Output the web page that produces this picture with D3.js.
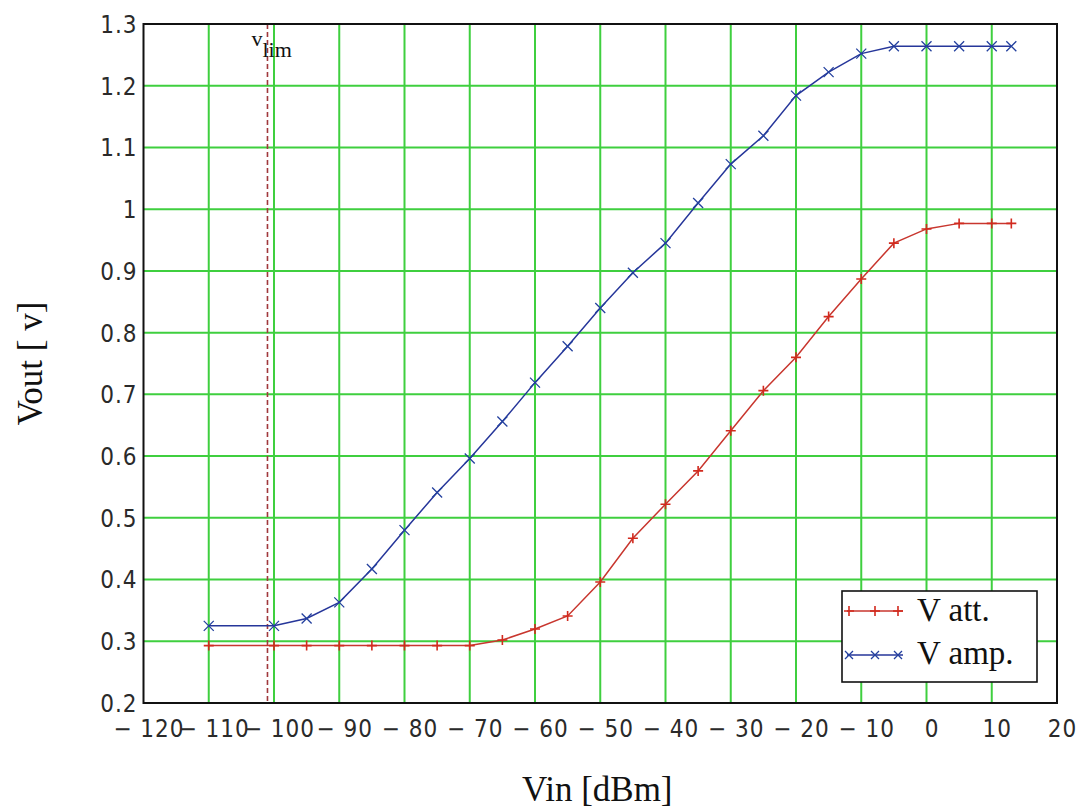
<!DOCTYPE html>
<html>
<head>
<meta charset="utf-8">
<script src="https://cdn.jsdelivr.net/npm/d3@7"></script>
<style>
  body { margin: 0; background: #fff; }
  svg { display: block; }
  .tick-lbl { font-family: "Liberation Sans Narrow", "DejaVu Sans Condensed", sans-serif; font-size: 24px; fill: #2a2a2a; letter-spacing: 1px; }
  .ttl { font-family: "Liberation Serif", "Times New Roman", serif; fill: #111; }
</style>
</head>
<body>
<div id="chart"></div>
<script>
// data
var vin  = [-110, -100, -95, -90, -85, -80, -75, -70, -65, -60, -55, -50, -45, -40, -35, -30, -25, -20, -15, -10, -5, 0, 5, 10, 13];
var vAtt = [0.293, 0.293, 0.293, 0.293, 0.293, 0.293, 0.293, 0.293, 0.302, 0.320, 0.341, 0.396, 0.467, 0.522, 0.576, 0.641, 0.706, 0.760, 0.826, 0.887, 0.945, 0.968, 0.977, 0.977, 0.977];
var vAmp = [0.325, 0.325, 0.337, 0.363, 0.417, 0.480, 0.541, 0.596, 0.656, 0.719, 0.778, 0.840, 0.897, 0.945, 1.010, 1.073, 1.119, 1.184, 1.222, 1.252, 1.264, 1.264, 1.264, 1.264, 1.264];
var vLim = -101;
var xTicks = [-120, -110, -100, -90, -80, -70, -60, -50, -40, -30, -20, -10, 0, 10, 20];
var yTicks = [0.2, 0.3, 0.4, 0.5, 0.6, 0.7, 0.8, 0.9, 1.0, 1.1, 1.2, 1.3];
var seriesNames = ["V att.", "V amp."];

var W = 1082, H = 810;
var m = {left: 143.5, right: 25, top: 24, bottom: 107};

var svg = d3.select("#chart").append("svg").attr("width", W).attr("height", H);

var x = d3.scaleLinear().domain([-120, 20]).range([m.left, W - m.right]);
var y = d3.scaleLinear().domain([0.2, 1.3]).range([H - m.bottom, m.top]);

// grid
var grid = svg.append("g");
grid.selectAll(".vg").data(xTicks.slice(1, -1)).enter().append("line")
  .attr("x1", function(d){ return x(d); }).attr("x2", function(d){ return x(d); })
  .attr("y1", y(1.3)).attr("y2", y(0.2))
  .style("stroke", "#3fcf3f").style("stroke-width", 2);
grid.selectAll(".hg").data(yTicks.slice(1, -1)).enter().append("line")
  .attr("x1", x(-120)).attr("x2", x(20))
  .attr("y1", function(d){ return y(d); }).attr("y2", function(d){ return y(d); })
  .style("stroke", "#3fcf3f").style("stroke-width", 2);

// axes (labels only, Mathcad style)
var xAxis = d3.axisBottom(x).tickValues(xTicks).tickSize(0)
  .tickFormat(function(d){ return d < 0 ? "\u2212 " + Math.abs(d) : String(d); });
var gx = svg.append("g").attr("transform", "translate(5," + (H - m.bottom) + ")").call(xAxis);
gx.select(".domain").remove();
gx.selectAll("text").attr("class", "tick-lbl").attr("y", 34).attr("dy", 0).style("font", null);

var yAxis = d3.axisLeft(y).tickValues(yTicks).tickSize(0)
  .tickFormat(function(d){ return String(+d.toFixed(1)); });
var gy = svg.append("g").attr("transform", "translate(" + m.left + ",0)").call(yAxis);
gy.select(".domain").remove();
gy.selectAll("text").attr("class", "tick-lbl").attr("x", -6).attr("dy", "0.35em").style("font", null);

// v_lim marker
svg.append("line")
  .attr("x1", x(vLim)).attr("x2", x(vLim)).attr("y1", y(1.3)).attr("y2", y(0.2))
  .style("stroke", "#a0383c").style("stroke-width", 1.6).style("stroke-dasharray", "5,3");
var vl = svg.append("text").attr("class", "ttl").attr("x", x(vLim) - 16).attr("y", 46).style("font-size", "22px");
vl.append("tspan").text("v");
vl.append("tspan").attr("dy", 11).text("lim");

// series
var line = d3.line().x(function(d){ return x(d[0]); }).y(function(d){ return y(d[1]); });
var attPts = d3.zip(vin, vAtt), ampPts = d3.zip(vin, vAmp);
var redC = "#c8362e", blueC = "#26369a";

svg.append("path").datum(attPts).attr("d", line)
  .style("fill", "none").style("stroke", redC).style("stroke-width", 1.5);
svg.append("path").datum(ampPts).attr("d", line)
  .style("fill", "none").style("stroke", blueC).style("stroke-width", 1.5);

function plus(g, cx, cy, r, col) {
  g.append("path").attr("d", "M" + (cx - r) + "," + cy + "H" + (cx + r) + "M" + cx + "," + (cy - r) + "V" + (cy + r))
    .style("stroke", col).style("stroke-width", 1.6).style("fill", "none");
}
function cross(g, cx, cy, r, col) {
  g.append("path").attr("d", "M" + (cx - r) + "," + (cy - r) + "L" + (cx + r) + "," + (cy + r) + "M" + (cx - r) + "," + (cy + r) + "L" + (cx + r) + "," + (cy - r))
    .style("stroke", col).style("stroke-width", 1.3).style("fill", "none");
}
var mk = svg.append("g");
attPts.forEach(function(p){ plus(mk, x(p[0]), y(p[1]), 5, "#d22a1e"); });
ampPts.forEach(function(p){ cross(mk, x(p[0]), y(p[1]), 5, "#23409e"); });

// frame
svg.append("rect")
  .attr("x", x(-120)).attr("y", y(1.3)).attr("width", x(20) - x(-120)).attr("height", y(0.2) - y(1.3))
  .style("fill", "none").style("stroke", "#111").style("stroke-width", 2);

// legend
var lg = svg.append("g").attr("transform", "translate(842,591)");
lg.append("rect").attr("width", 195).attr("height", 91)
  .style("fill", "#fff").style("stroke", "#111").style("stroke-width", 1.6);
[redC, blueC].forEach(function(c, i){
  var ly = i === 0 ? 20 : 64;
  lg.append("line").attr("x1", 5).attr("x2", 61).attr("y1", ly).attr("y2", ly)
    .style("stroke", c).style("stroke-width", 1.5);
  [7, 33, 56].forEach(function(px){
    if (i === 0) plus(lg, px, ly, 5, "#d22a1e"); else cross(lg, px, ly, 4, "#23409e");
  });
  lg.append("text").attr("class", "ttl").attr("x", 75).attr("y", i === 0 ? 30 : 73)
    .style("font-size", "33px").text(seriesNames[i]);
});

// axis titles
svg.append("text").attr("class", "ttl").attr("x", x(-50) - 3).attr("y", 801)
  .attr("text-anchor", "middle").style("font-size", "35px").text("Vin [dBm]");
svg.append("text").attr("class", "ttl")
  .attr("transform", "translate(42," + ((y(0.2) + y(1.3)) / 2) + ") rotate(-90)")
  .attr("text-anchor", "middle").style("font-size", "35px").text("Vout [ v]");
</script>
</body>
</html>
